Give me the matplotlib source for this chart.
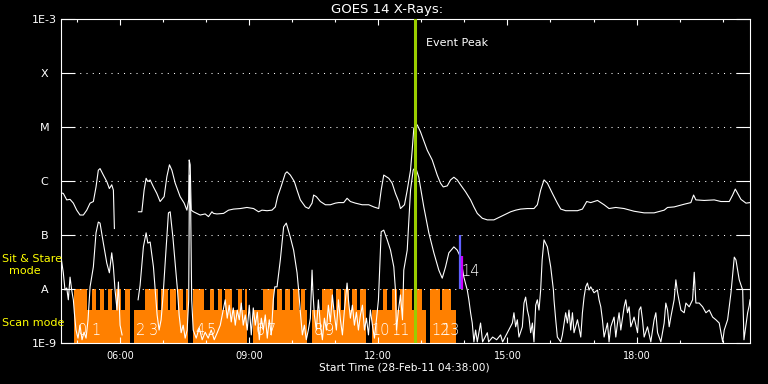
import numpy as np
import matplotlib
matplotlib.use("Agg")
import matplotlib.pyplot as plt
from matplotlib.ticker import FixedLocator, NullLocator

nan = np.nan

# ---------------- data (time in minutes since 28-Feb-11 04:38:00) ----------------
title_text = "GOES 14 X-Rays:"
xlabel_text = "Start Time (28-Feb-11 04:38:00)"

x_major_ticks = [82, 262, 442, 622, 802]
x_major_labels = ["06:00", "09:00", "12:00", "15:00", "18:00"]
x_minor_ticks = [22, 142, 202, 322, 382, 502, 562, 682, 742, 862, 922]

y_levels = [1e-9, 1e-8, 1e-7, 1e-6, 1e-5, 1e-4, 1e-3]
y_names = ["1E-9", "A", "B", "C", "M", "X", "1E-3"]
grid_levels = [1e-8, 1e-7, 1e-6, 1e-5, 1e-4]

# GOES long channel (1-8 A), log10 flux
long_t = [0, 3.2, 8.0, 12.6, 17.2, 21.9, 26.5, 31.1, 35.9, 40.5,
          45.1, 48.8, 52.0, 54.4, 59.0, 63.8, 67.4, 70.7, 73.0, 74.4,
          nan, 107.9, 112.6, 115.8, 118.6, 121.0, 124.2, 128.8, 133.5, 138.1,
          143.7, 147.5, 151.1, 154.5, 159.1, 166.0, 171.6, 175.4, 177.9, 178.6,
          180.0, 181.4, 184.6, 189.3, 193.9, 200.9, 205.5, 210.3, 212.5, 217.2,
          226.5, 233.4, 240.4, 249.8, 259.1, 268.3, 275.3, 280.0, 287.0, 294.0,
          298.6, 301.8, 306.5, 312.5, 314.9, 319.5, 325.1, 328.9, 333.5, 340.5,
          345.1, 349.8, 352.0, 355.8, 361.4, 368.4, 375.3, 382.3, 386.9, 393.9,
          398.6, 403.2, 410.2, 419.6, 428.8, 435.8, 442.7, 446.1, 449.7, 456.7,
          461.4, 466.0, 470.6, 473.0, 478.6, 482.4, 487.0, 489.3, 491.6, 496.3,
          500.9, 510.3, 517.2, 524.2, 528.8, 532.6, 538.2, 542.8, 547.4, 552.1,
          556.7, 563.7, 570.7, 575.3, 580.0, 587.0, 594.0, 603.2, 612.5, 621.9,
          626.5, 633.5, 640.4, 649.8, 659.0, 663.7, 668.3, 673.0, 677.7, 684.7,
          691.6, 696.3, 703.2, 710.2, 719.6, 726.5, 732.5, 738.1, 747.5, 756.7,
          763.6, 773.0, 784.6, 798.5, 812.5, 826.4, 840.4, 845.1, 854.3, 868.3,
          877.6, 881.4, 884.6, 896.2, 910.2, 919.5, 931.1, 935.8, 939.5, 942.8,
          947.4, 954.4, 960.0]
long_log = [-6.22, -6.23, -6.35, -6.34, -6.41, -6.54, -6.63, -6.63, -6.54, -6.41,
            -6.38, -6.11, -5.80, -5.77, -5.89, -6.01, -6.14, -6.07, -6.17, -6.88,
            nan, -6.57, -6.57, -6.17, -5.95, -6.01, -5.98, -6.11, -6.23, -6.38,
            -6.29, -5.92, -5.70, -5.80, -6.04, -6.29, -6.41, -6.54, -6.35, -5.61,
            -5.70, -6.54, -6.57, -6.60, -6.63, -6.61, -6.66, -6.57, -6.60, -6.61,
            -6.60, -6.54, -6.52, -6.51, -6.49, -6.51, -6.57, -6.54, -6.55, -6.54,
            -6.48, -6.29, -6.11, -5.86, -5.83, -5.89, -6.01, -6.17, -6.35, -6.48,
            -6.51, -6.41, -6.26, -6.29, -6.38, -6.44, -6.44, -6.41, -6.40, -6.40,
            -6.32, -6.38, -6.41, -6.44, -6.44, -6.48, -6.51, -6.17, -5.89, -5.95,
            -6.04, -6.23, -6.38, -6.51, -6.44, -6.17, -5.80, -5.43, -5.02, -4.96,
            -5.09, -5.43, -5.61, -5.89, -6.04, -6.11, -6.09, -5.98, -5.93, -5.98,
            -6.07, -6.20, -6.35, -6.48, -6.60, -6.69, -6.72, -6.72, -6.66, -6.60,
            -6.57, -6.54, -6.52, -6.51, -6.51, -6.44, -6.17, -5.98, -6.04, -6.23,
            -6.41, -6.52, -6.55, -6.55, -6.55, -6.52, -6.38, -6.40, -6.36, -6.44,
            -6.51, -6.49, -6.51, -6.56, -6.59, -6.59, -6.54, -6.49, -6.48, -6.43,
            -6.40, -6.26, -6.35, -6.36, -6.35, -6.38, -6.38, -6.26, -6.15, -6.23,
            -6.34, -6.41, -6.40]

# GOES short channel (0.5-4 A), log10 flux
short_t = [0, 3.2, 5.6, 8.0, 10.2, 12.6, 14.9, 17.2, 18.6, 20.9,
           23.7, 26.5, 29.3, 32.1, 34.9, 37.7, 40.5, 45.1, 48.8, 52.0,
           54.4, 59.0, 63.8, 67.4, 70.7, 73.0, 75.3, 78.1, 80.0, 82.3,
           85.1, nan, 107.4, 110.2, 114.8, 118.6, 121.0, 124.2, 128.8, 131.2,
           133.9, 136.7, 139.5, 142.3, 145.1, 149.7, 152.1, 155.9, 159.1, 162.3,
           164.6, 167.4, 170.2, 173.0, 175.8, 177.9, 179.0, 180.7, 182.1, 184.2,
           188.4, 192.6, 196.7, 200.9, 205.1, 209.3, 213.5, 217.7, 221.9, 226.0,
           228.8, 231.6, 234.4, 237.2, 240.0, 242.8, 245.6, 248.4, 251.2, 253.9,
           256.7, 259.5, 262.3, 265.1, 267.9, 270.7, 273.5, 276.3, 279.1, 281.9,
           284.6, 287.4, 290.2, 293.0, 295.8, 297.9, 301.0, 305.6, 310.2, 313.9,
           319.5, 324.1, 328.9, 331.1, 333.5, 336.3, 339.1, 341.8, 344.6, 347.4,
           349.8, 350.9, 353.0, 355.8, 358.6, 361.4, 364.2, 367.0, 369.8, 372.5,
           375.3, 378.1, 380.9, 383.7, 386.5, 389.3, 392.1, 394.9, 398.6, 400.5,
           403.2, 406.0, 408.8, 411.6, 414.4, 417.2, 420.0, 422.8, 425.6, 428.4,
           431.1, 433.9, 436.7, 439.5, 442.3, 446.1, 449.7, 454.5, 459.1, 463.7,
           466.0, 467.4, 470.2, 473.0, 475.8, 477.6, 482.4, 487.0, 490.7, 493.9,
           498.5, 505.5, 512.5, 519.5, 526.4, 531.2, 535.8, 540.4, 547.4, 552.1,
           556.7, 561.3, 566.1, 568.3, 570.7, 573.0, 575.3, 577.7, 580.0, 584.6,
           587.4, 594.0, 595.8, 601.4, 607.0, 612.5, 615.3, 621.9, 628.9, 631.1,
           633.5, 635.8, 638.1, 642.8, 645.1, 647.4, 649.8, 652.0, 654.4, 656.8,
           659.0, 661.4, 663.7, 666.0, 668.3, 670.4, 673.0, 677.7, 682.3, 686.1,
           686.9, 689.3, 691.6, 696.3, 698.6, 703.2, 705.6, 707.8, 710.2, 712.6,
           714.8, 719.6, 724.2, 726.5, 728.8, 731.1, 733.5, 735.7, 738.1, 742.7,
           747.5, 749.7, 752.1, 754.4, 756.7, 761.4, 763.6, 766.0, 770.6, 773.0,
           775.4, 777.6, 780.0, 784.6, 786.9, 789.3, 791.6, 793.9, 798.5, 803.3,
           805.5, 807.9, 810.2, 812.5, 817.2, 821.8, 826.4, 828.8, 831.2, 835.8,
           840.4, 842.7, 845.1, 847.4, 849.7, 854.3, 856.7, 859.1, 863.7, 868.3,
           870.7, 875.3, 880.0, 882.3, 884.6, 889.2, 894.0, 898.6, 903.2, 907.9,
           912.5, 917.1, 921.9, 924.1, 928.8, 933.5, 938.1, 940.4, 945.0, 949.8,
           951.6, 954.4, 956.7, 959.0, 960.0]
short_log = [-7.41, -7.70, -8.02, -7.98, -8.20, -7.78, -8.02, -8.20, -8.44, -8.76,
             -8.91, -8.67, -8.94, -8.80, -8.91, -8.57, -7.96, -7.59, -6.96, -6.76,
             -6.78, -7.15, -7.52, -7.70, -7.33, -7.59, -8.02, -8.39, -7.87, -8.67,
             -8.85, nan, -8.20, -7.93, -7.22, -6.96, -7.15, -7.13, -7.59, -8.02,
             -8.48, -8.76, -8.57, -8.11, -7.52, -6.59, -6.57, -7.04, -7.52, -8.02,
             -8.48, -8.81, -8.67, -8.91, -8.76, -8.20, -5.89, -6.54, -8.20, -8.76,
             -8.91, -8.72, -8.94, -8.80, -8.91, -8.76, -8.94, -8.81, -8.67, -8.39,
             -8.20, -8.54, -8.30, -8.61, -8.35, -8.67, -8.39, -8.57, -8.26, -8.67,
             -8.48, -8.76, -8.30, -8.85, -8.35, -8.67, -8.43, -8.94, -8.54, -8.76,
             -8.48, -8.91, -8.57, -8.85, -8.20, -7.96, -7.96, -7.46, -6.85, -6.78,
             -7.04, -7.28, -7.70, -8.02, -8.43, -8.85, -8.67, -8.94, -8.76, -8.54,
             -7.65, -8.02, -8.48, -8.76, -8.20, -8.67, -8.94, -8.54, -8.76, -8.30,
             -8.61, -8.11, -8.48, -8.76, -8.20, -8.57, -8.85, -8.39, -7.89, -8.20,
             -8.54, -8.30, -8.67, -8.43, -8.76, -8.48, -8.30, -8.76, -8.54, -8.85,
             -8.39, -8.67, -8.91, -8.57, -8.20, -6.94, -6.91, -7.09, -7.28, -7.59,
             -8.02, -8.76, -8.39, -8.11, -8.57, -7.65, -7.28, -6.17, -5.80, -5.74,
             -5.93, -6.48, -6.96, -7.33, -7.65, -7.80, -7.59, -7.33, -7.22, -7.28,
             -7.41, -7.78, -8.02, -8.20, -8.44, -8.63, -8.98, -8.76, -8.98, -8.63,
             -8.98, -8.81, -8.98, -8.89, -8.94, -8.85, -8.98, -8.81, -8.63, -8.44,
             -8.70, -8.57, -8.89, -8.70, -8.26, -8.15, -8.39, -8.52, -8.81, -8.63,
             -8.98, -8.30, -8.20, -8.39, -8.02, -7.46, -7.09, -7.22, -7.59, -8.02,
             -8.20, -8.57, -8.89, -8.98, -8.85, -8.44, -8.63, -8.39, -8.76, -8.44,
             -8.81, -8.57, -8.89, -8.44, -8.15, -7.96, -7.89, -8.02, -7.96, -8.07,
             -8.02, -8.20, -8.33, -8.57, -8.89, -8.63, -8.98, -8.70, -8.52, -8.89,
             -8.63, -8.44, -8.76, -8.33, -8.20, -8.44, -8.33, -8.70, -8.52, -8.81,
             -8.39, -8.33, -8.57, -8.89, -8.70, -8.98, -8.57, -8.44, -8.81, -8.98,
             -8.63, -8.26, -8.39, -8.70, -8.52, -8.20, -7.83, -8.07, -8.39, -8.44,
             -8.26, -8.33, -8.20, -7.69, -8.26, -8.26, -8.33, -8.44, -8.39, -8.52,
             -8.57, -8.63, -8.98, -8.76, -8.57, -8.07, -7.41, -7.46, -7.83, -8.02,
             -8.94, -8.67, -8.44, -8.30, -8.20]

# Observation timeline (scan-mode blocks and sit & stare runs), minutes
scan_start = [36.3, 101.9, 184.2, 267.2, 350.2, 433.9, 513.5]
scan_end = [96.3, 177.2, 259.5, 343.2, 425.6, 507.9, 549.8]
stare_start = [18.8, 42.6, 54.4, 65.6, 76.7, 88.6, 117.2, 139.5, 152.5, 163.7,
               174.4, 183.8, 207.9, 218.4, 229.0, 246.0, 256.7, 281.9, 301.0, 312.5,
               323.3, 334.5, 364.2, 383.7, 394.9, 406.0, 417.2, 449.3, 460.5, 473.0,
               496.3, 513.5, 530.2]
stare_end = [36.3, 48.1, 60.0, 71.2, 83.7, 96.3, 135.8, 148.9, 160.0, 170.6,
             177.2, 199.5, 213.5, 224.0, 238.0, 252.1, 259.5, 296.2, 307.9, 319.5,
             331.1, 340.5, 379.5, 390.7, 401.9, 413.0, 425.6, 454.9, 468.1, 489.7,
             503.3, 528.1, 542.8]
scan_level = 4.1e-9
stare_level = 1e-8

obs_t = [23.7, 41.9, 104.7, 122.8, 187.1, 202.4, 270.7, 287.4, 351.6, 367.0,
         432.5, 460.5, 516.3, 530.2, 558.1]
obs_id = ["0", "1", "2", "3", "4", "5", "6", "7", "8", "9",
          "10", "11", "12", "13", "14"]

event_peak_t = 493.5
obs14_blue_t, obs14_blue_range = 555.3, (1e-8, 1e-7)
obs14_mag_t, obs14_mag_range = 558.1, (1e-8, 4.1e-8)

# ---------------- figure ----------------
W, H = 768, 384
fig = plt.figure(figsize=(W / 100, H / 100), dpi=100, facecolor="black")
ax = fig.add_axes([61 / W, 41 / H, 689 / W, 324 / H], facecolor="black")
ax.set_yscale("log")
ax.set_xlim(0, 960)
ax.set_ylim(1e-9, 1e-3)

orange = "#ff8000"
for s, e in zip(scan_start, scan_end):
    ax.bar(s, scan_level - 1e-9, width=e - s, bottom=1e-9, align="edge",
           color=orange, linewidth=0, zorder=1)
for s, e in zip(stare_start, stare_end):
    ax.bar(s, stare_level - 1e-9, width=e - s, bottom=1e-9, align="edge",
           color=orange, linewidth=0, zorder=1)

for lv in grid_levels:
    ax.axhline(lv, color="white", lw=0.75, ls=(0, (1, 5)), zorder=2)

ax.plot(long_t, 10 ** np.array(long_log), color="white", lw=0.8, zorder=3)
ax.plot(short_t, 10 ** np.array(short_log), color="white", lw=0.8, zorder=3)

for t, lab in zip(obs_t, obs_id):
    yv = 2.15e-8 if lab == "14" else 1.74e-9
    ax.text(t, yv, lab, color="white", fontsize=10.5, ha="left", va="center",
            fontweight="light", zorder=4)

ax.axvline(event_peak_t, color="#9acd00", lw=2.2, zorder=5)
ax.vlines(obs14_blue_t, *obs14_blue_range, color="#6060ff", lw=1.6, zorder=5)
ax.vlines(obs14_mag_t, *obs14_mag_range, color="#cc00ff", lw=1.6, zorder=5)
ax.text(event_peak_t + 15.5, 3.6e-4, "Event Peak", color="white", fontsize=8,
        ha="left", va="center", zorder=6)

for sp in ax.spines.values():
    sp.set_color("white")
    sp.set_linewidth(0.8)

ax.yaxis.set_major_locator(FixedLocator(y_levels))
ax.yaxis.set_minor_locator(NullLocator())
ax.set_yticklabels(y_names)
ax.tick_params(axis="y", which="major", direction="in", length=10, width=0.8,
               left=True, right=True, colors="white", labelsize=8, pad=11.9)
for lbl in ax.get_yticklabels():
    lbl.set_horizontalalignment("center")

ax.xaxis.set_major_locator(FixedLocator(x_major_ticks))
ax.xaxis.set_minor_locator(FixedLocator(x_minor_ticks))
ax.set_xticklabels(x_major_labels)
ax.tick_params(axis="x", which="major", direction="in", length=4.3, width=0.8,
               top=True, bottom=True, colors="white", labelsize=7, pad=5.5)
ax.tick_params(axis="x", which="minor", direction="in", length=2.2, width=0.8,
               top=True, bottom=True, colors="white")

fig.text(387 / W, 1 - 9 / H, title_text, color="white", fontsize=9.5,
         ha="center", va="center")
fig.text(404.7 / W, 1 - 368 / H, xlabel_text, color="white", fontsize=7.6,
         ha="center", va="center")
fig.text(2 / W, 1 - 258.5 / H, "Sit & Stare", color="yellow", fontsize=8,
         ha="left", va="center")
fig.text(24.5 / W, 1 - 271 / H, "mode", color="yellow", fontsize=8,
         ha="center", va="center")
fig.text(2 / W, 1 - 323.5 / H, "Scan mode", color="yellow", fontsize=8,
         ha="left", va="center")

fig.savefig("out.png", dpi=100, facecolor="black")
